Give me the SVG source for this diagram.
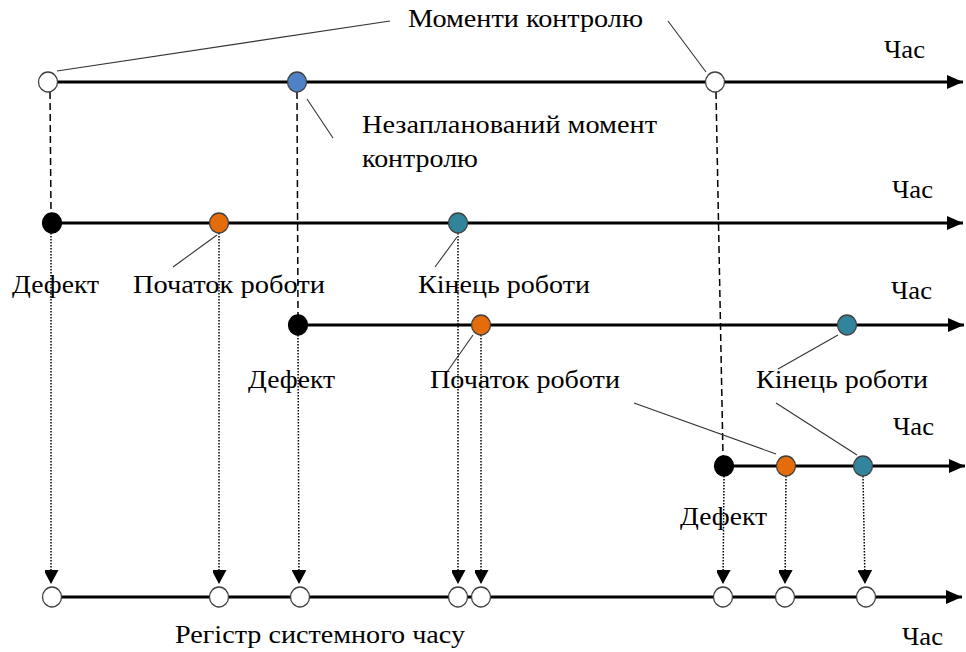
<svg xmlns="http://www.w3.org/2000/svg" width="966" height="652" viewBox="0 0 966 652">
<defs>
<marker id="axisHead" markerWidth="16" markerHeight="14" refX="16" refY="7" orient="auto" markerUnits="userSpaceOnUse">
<path d="M0,0 L16,7 L0,14 Z" fill="#000"/>
</marker>
<marker id="downHead" markerWidth="15" markerHeight="14" refX="14" refY="7.5" orient="auto" markerUnits="userSpaceOnUse">
<path d="M0,0 L14,7.5 L0,15 Z" fill="#000"/>
</marker>
</defs>
<style>
.axis{stroke:#000;stroke-width:3;fill:none}
.dash{stroke:#000;stroke-width:1.5;stroke-dasharray:7 4;fill:none}
.dot{stroke:#000;stroke-width:1.5;stroke-dasharray:1.5 1.5;fill:none}
.lead{stroke:#333;stroke-width:1.1;fill:none}
.pt{stroke:#404040;stroke-width:1.3}
.w{fill:#fff}
.k{fill:#000;stroke:#000}
.b{fill:#4f81c7}
.o{fill:#e46c0a}
.t{fill:#31849b}
text{font-family:"Liberation Serif","Times New Roman",serif;font-size:26px;fill:#000}
</style>
<rect width="966" height="652" fill="#fff"/>
<g id="connectors">
<line class="axis" x1="48" y1="82" x2="963" y2="82" marker-end="url(#axisHead)"/>
<line class="axis" x1="52" y1="223" x2="963" y2="223" marker-end="url(#axisHead)"/>
<line class="axis" x1="298" y1="325" x2="964" y2="325" marker-end="url(#axisHead)"/>
<line class="axis" x1="724" y1="466" x2="965" y2="466" marker-end="url(#axisHead)"/>
<line class="axis" x1="52" y1="597" x2="962" y2="597" marker-end="url(#axisHead)"/>
<line class="dash" x1="50" y1="92" x2="51" y2="213"/>
<line class="dash" x1="297" y1="92" x2="298" y2="315"/>
<line class="dash" x1="716" y1="92" x2="723" y2="456"/>
<line class="dot" x1="51" y1="233" x2="51" y2="584" marker-end="url(#downHead)"/>
<line class="dot" x1="219" y1="233" x2="219" y2="584" marker-end="url(#downHead)"/>
<line class="dot" x1="298" y1="335" x2="299" y2="584" marker-end="url(#downHead)"/>
<line class="dot" x1="458" y1="233" x2="458" y2="584" marker-end="url(#downHead)"/>
<line class="dot" x1="481" y1="335" x2="481" y2="584" marker-end="url(#downHead)"/>
<line class="dot" x1="724" y1="476" x2="723" y2="584" marker-end="url(#downHead)"/>
<line class="dot" x1="786" y1="476" x2="785" y2="584" marker-end="url(#downHead)"/>
<line class="dot" x1="863" y1="476" x2="865" y2="584" marker-end="url(#downHead)"/>
<line class="lead" x1="57" y1="71" x2="390" y2="21"/>
<line class="lead" x1="668" y1="21" x2="706" y2="72"/>
<line class="lead" x1="307" y1="99" x2="333" y2="138"/>
<line class="lead" x1="217" y1="235" x2="173" y2="267"/>
<line class="lead" x1="457" y1="237" x2="435" y2="267"/>
<line class="lead" x1="473" y1="335" x2="447" y2="372"/>
<line class="lead" x1="838" y1="335" x2="778" y2="369"/>
<line class="lead" x1="634" y1="403" x2="776" y2="454"/>
<line class="lead" x1="776" y1="403" x2="857" y2="455"/>
</g>
<g id="line1-points">
<ellipse id="ctrl1" class="pt w" cx="48" cy="82" rx="9.5" ry="10"/>
<ellipse id="ctrl-unplanned" class="pt b" cx="297" cy="82" rx="9.5" ry="10"/>
<ellipse id="ctrl2" class="pt w" cx="715" cy="82" rx="9.5" ry="10"/>
</g>
<g id="line2-points">
<ellipse id="defect1" class="pt k" cx="52" cy="223" rx="9.5" ry="10"/>
<ellipse id="start1" class="pt o" cx="219" cy="223" rx="9.5" ry="10"/>
<ellipse id="end1" class="pt t" cx="458" cy="223" rx="9.5" ry="10"/>
</g>
<g id="line3-points">
<ellipse id="defect2" class="pt k" cx="298" cy="325" rx="9.5" ry="10"/>
<ellipse id="start2" class="pt o" cx="481" cy="325" rx="9.5" ry="10"/>
<ellipse id="end2" class="pt t" cx="847" cy="325" rx="9.5" ry="10"/>
</g>
<g id="line4-points">
<ellipse id="defect3" class="pt k" cx="724" cy="466" rx="9.5" ry="10"/>
<ellipse id="start3" class="pt o" cx="786" cy="466" rx="9.5" ry="10"/>
<ellipse id="end3" class="pt t" cx="863" cy="466" rx="9.5" ry="10"/>
</g>
<g id="register-points">
<ellipse class="pt w" cx="52" cy="597" rx="9.5" ry="10"/>
<ellipse class="pt w" cx="219" cy="597" rx="9.5" ry="10"/>
<ellipse class="pt w" cx="300" cy="597" rx="9.5" ry="10"/>
<ellipse class="pt w" cx="458" cy="597" rx="9.5" ry="10"/>
<ellipse class="pt w" cx="481" cy="597" rx="9.5" ry="10"/>
<ellipse class="pt w" cx="723" cy="597" rx="9.5" ry="10"/>
<ellipse class="pt w" cx="785" cy="597" rx="9.5" ry="10"/>
<ellipse class="pt w" cx="866" cy="597" rx="9.5" ry="10"/>
</g>
<g id="labels">
<text x="408" y="27" textLength="235" lengthAdjust="spacingAndGlyphs">Моменти контролю</text>
<text x="884" y="58" textLength="41" lengthAdjust="spacingAndGlyphs">Час</text>
<text x="362" y="133" textLength="295" lengthAdjust="spacingAndGlyphs">Незапланований момент</text>
<text x="362" y="167" textLength="116" lengthAdjust="spacingAndGlyphs">контролю</text>
<text x="892" y="198" textLength="41" lengthAdjust="spacingAndGlyphs">Час</text>
<text x="12" y="293" textLength="87" lengthAdjust="spacingAndGlyphs">Дефект</text>
<text x="133" y="293" textLength="192" lengthAdjust="spacingAndGlyphs">Початок роботи</text>
<text x="418" y="293" textLength="172" lengthAdjust="spacingAndGlyphs">Кінець роботи</text>
<text x="891" y="299" textLength="41" lengthAdjust="spacingAndGlyphs">Час</text>
<text x="248" y="388" textLength="87" lengthAdjust="spacingAndGlyphs">Дефект</text>
<text x="430" y="388" textLength="190" lengthAdjust="spacingAndGlyphs">Початок роботи</text>
<text x="756" y="388" textLength="172" lengthAdjust="spacingAndGlyphs">Кінець роботи</text>
<text x="893" y="435" textLength="41" lengthAdjust="spacingAndGlyphs">Час</text>
<text x="680" y="525" textLength="87" lengthAdjust="spacingAndGlyphs">Дефект</text>
<text x="175" y="643" textLength="290" lengthAdjust="spacingAndGlyphs">Регістр системного часу</text>
<text x="902" y="645" textLength="41" lengthAdjust="spacingAndGlyphs">Час</text>
</g>
</svg>
